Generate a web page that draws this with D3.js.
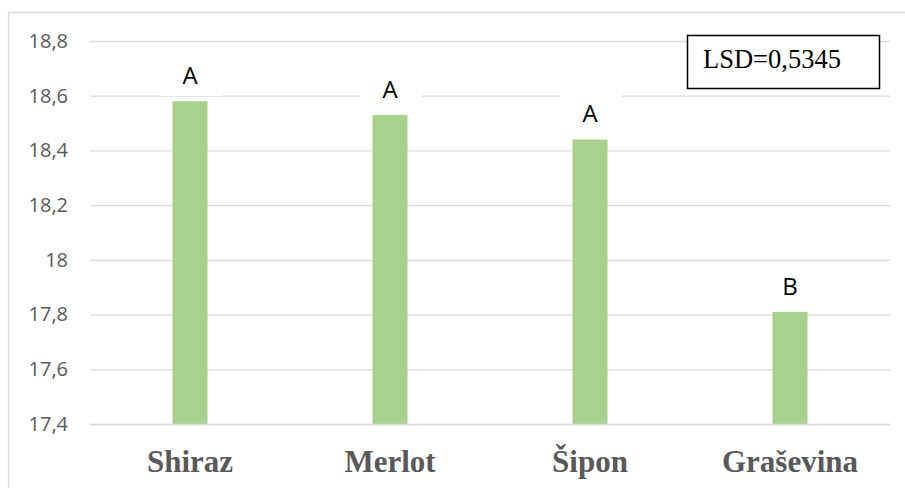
<!DOCTYPE html>
<html>
<head>
<meta charset="utf-8">
<script src="https://cdn.jsdelivr.net/npm/d3@7"></script>
<style>
  html, body { margin: 0; padding: 0; background: #fff; }
  svg { display: block; }
</style>
</head>
<body>
<svg id="chart" width="905" height="488"></svg>
<script>
const categories = ["Shiraz", "Merlot", "Šipon", "Graševina"];
const values = [18.58, 18.53, 18.44, 17.81];
const groupLabels = ["A", "A", "A", "B"];
const yTicks = [17.4, 17.6, 17.8, 18.0, 18.2, 18.4, 18.6, 18.8];
const lsdText = "LSD=0,5345";

const svg = d3.select("#chart");
const W = 905, H = 488;
const plot = { left: 90, right: 890, top: 41, bottom: 424 };

// outer chart border
svg.append("rect")
  .attr("x", 8.5).attr("y", 12.5)
  .attr("width", W + 10).attr("height", H + 10)
  .attr("fill", "#fff").attr("stroke", "#d9d9d9").attr("stroke-width", 1.3);

const x = d3.scaleBand().domain(categories).range([plot.left, plot.right]).paddingInner(0.825).paddingOuter(0.4125);
const y = d3.scaleLinear().domain([17.4, 18.8]).range([plot.bottom, plot.top]);

// gridlines
const yAxis = d3.axisLeft(y).tickValues(yTicks).tickSize(-(plot.right - plot.left)).tickFormat(d => d3.format("")(+d.toFixed(1)).replace(".", ","));
const gy = svg.append("g").attr("transform", `translate(${plot.left},0)`).call(yAxis);
gy.select(".domain").remove();
gy.selectAll(".tick line").attr("stroke", "#d9d9d9").attr("stroke-width", 1.3);
gy.selectAll(".tick text")
  .attr("x", -22)
  .attr("fill", "#595959")
  .style("font-family", "'Open Sans', sans-serif")
  .style("font-size", "20px");

// bars
svg.append("g").selectAll("rect").data(categories).join("rect")
  .attr("x", d => x(d))
  .attr("width", x.bandwidth())
  .attr("y", (d, i) => y(values[i]))
  .attr("height", (d, i) => y(17.4) - y(values[i]))
  .attr("fill", "#a9d18e");

// data labels with white boxes
const lg = svg.append("g");
categories.forEach((c, i) => {
  const cx = x(c) + x.bandwidth() / 2;
  const top = y(values[i]);
  lg.append("rect")
    .attr("x", cx - 30).attr("width", 62)
    .attr("y", top - 45).attr("height", 40)
    .attr("fill", "#fff");
  lg.append("text")
    .attr("x", cx).attr("y", top - 17)
    .attr("text-anchor", "middle")
    .attr("fill", "#000")
    .style("font-family", "'Open Sans', sans-serif")
    .style("font-size", "24px")
    .text(groupLabels[i]);
});

// category axis
const xAxis = d3.axisBottom(x).tickSize(0);
const gx = svg.append("g").attr("transform", `translate(0,${plot.bottom})`).call(xAxis);
gx.select(".domain").attr("stroke", "#d9d9d9").attr("stroke-width", 1.3);
gx.selectAll(".tick text")
  .attr("y", 0).attr("dy", 48)
  .attr("fill", "#595959")
  .style("font-family", "'Liberation Serif', 'Times New Roman', serif")
  .style("font-weight", "bold")
  .style("font-size", "31px");

// LSD box
svg.append("rect")
  .attr("x", 687.5).attr("y", 35.5)
  .attr("width", 192).attr("height", 53)
  .attr("fill", "#fff").attr("stroke", "#000").attr("stroke-width", 1.5);
svg.append("text")
  .attr("x", 703).attr("y", 68)
  .attr("fill", "#000")
  .style("font-family", "'Liberation Serif', 'Times New Roman', serif")
  .style("font-size", "26.5px")
  .text(lsdText);
</script>
</body>
</html>
